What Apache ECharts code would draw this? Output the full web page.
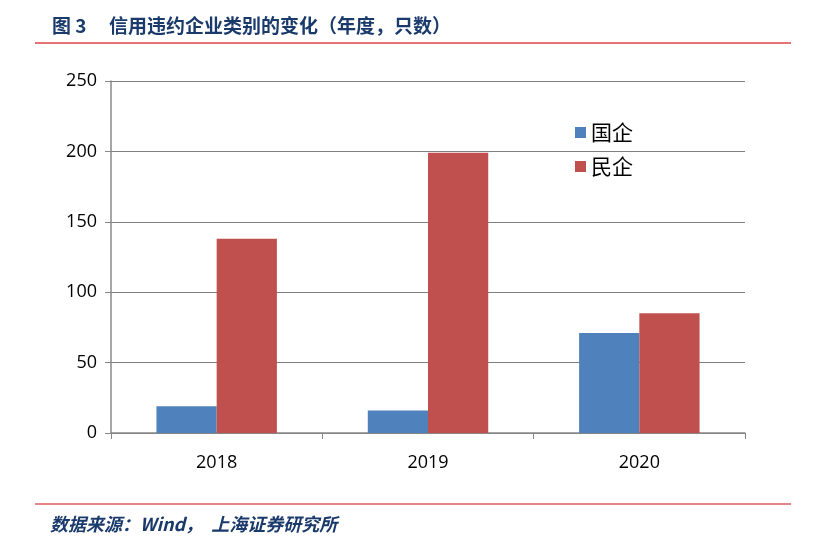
<!DOCTYPE html>
<html><head><meta charset="utf-8">
<script src="https://cdn.jsdelivr.net/npm/echarts@6/dist/echarts.min.js"></script>
<style>html,body{margin:0;padding:0;background:#fff;}#c{width:826px;height:544px;}</style>
</head><body><div id="c"></div>
<script>
const categories = ['2018', '2019', '2020'];
const soeValues = [19, 16, 71];
const privateValues = [138, 199, 85];
const seriesNames = ['国企', '民企'];

const chart = echarts.init(document.getElementById('c'));
chart.setOption({
  animation: false,
  backgroundColor: '#fff',
  graphic: [
    {type: 'text', left: 52, top: 16, style: {text: '图 3', font: 'bold 19px "Noto Sans CJK SC"', fill: '#1a3a6b'}},
    {type: 'text', left: 109, top: 16, style: {text: '信用违约企业类别的变化（年度，只数）', font: 'bold 19px "Noto Sans CJK SC"', fill: '#1a3a6b'}},
    {type: 'line', shape: {x1: 35, y1: 43, x2: 791, y2: 43}, style: {stroke: '#e0454a', lineWidth: 1.5}},
    {type: 'line', shape: {x1: 35, y1: 504, x2: 791, y2: 504}, style: {stroke: '#e58488', lineWidth: 2}},
    {type: 'text', left: 50, top: 515, style: {text: '数据来源：Wind，  上海证券研究所', font: 'italic bold 18px "Noto Sans CJK SC"', fill: '#1a3a6b'}}
  ],
  grid: {left: 111, right: 81, top: 81, bottom: 111},
  legend: {
    orient: 'vertical', left: 570, top: 117, itemWidth: 11, itemHeight: 11, itemGap: 13,
    icon: 'rect',
    textStyle: {fontSize: 21, color: '#000', fontFamily: '"Noto Sans CJK SC"'},
    data: seriesNames
  },
  xAxis: {
    type: 'category', data: categories,
    axisLine: {lineStyle: {color: '#888', width: 1.5}},
    axisTick: {show: true, alignWithLabel: false, length: 6, lineStyle: {color: '#888'}},
    axisLabel: {fontSize: 18, color: '#000', margin: 21, fontFamily: 'Open Sans, sans-serif'}
  },
  yAxis: {
    type: 'value', min: 0, max: 250, interval: 50,
    axisLine: {show: true, lineStyle: {color: '#888', width: 1.5}},
    axisTick: {show: true, length: 6, lineStyle: {color: '#888'}},
    splitLine: {lineStyle: {color: '#7f7f7f', width: 1}},
    axisLabel: {fontSize: 18, color: '#000', margin: 14, fontFamily: 'Open Sans, sans-serif'}
  },
  series: [
    {name: seriesNames[0], type: 'bar', data: soeValues, itemStyle: {color: '#4f81bd'}, barGap: '0%', barCategoryGap: '43%'},
    {name: seriesNames[1], type: 'bar', data: privateValues, itemStyle: {color: '#c0504d'}, barGap: '0%', barCategoryGap: '43%'}
  ]
});
</script></body></html>
